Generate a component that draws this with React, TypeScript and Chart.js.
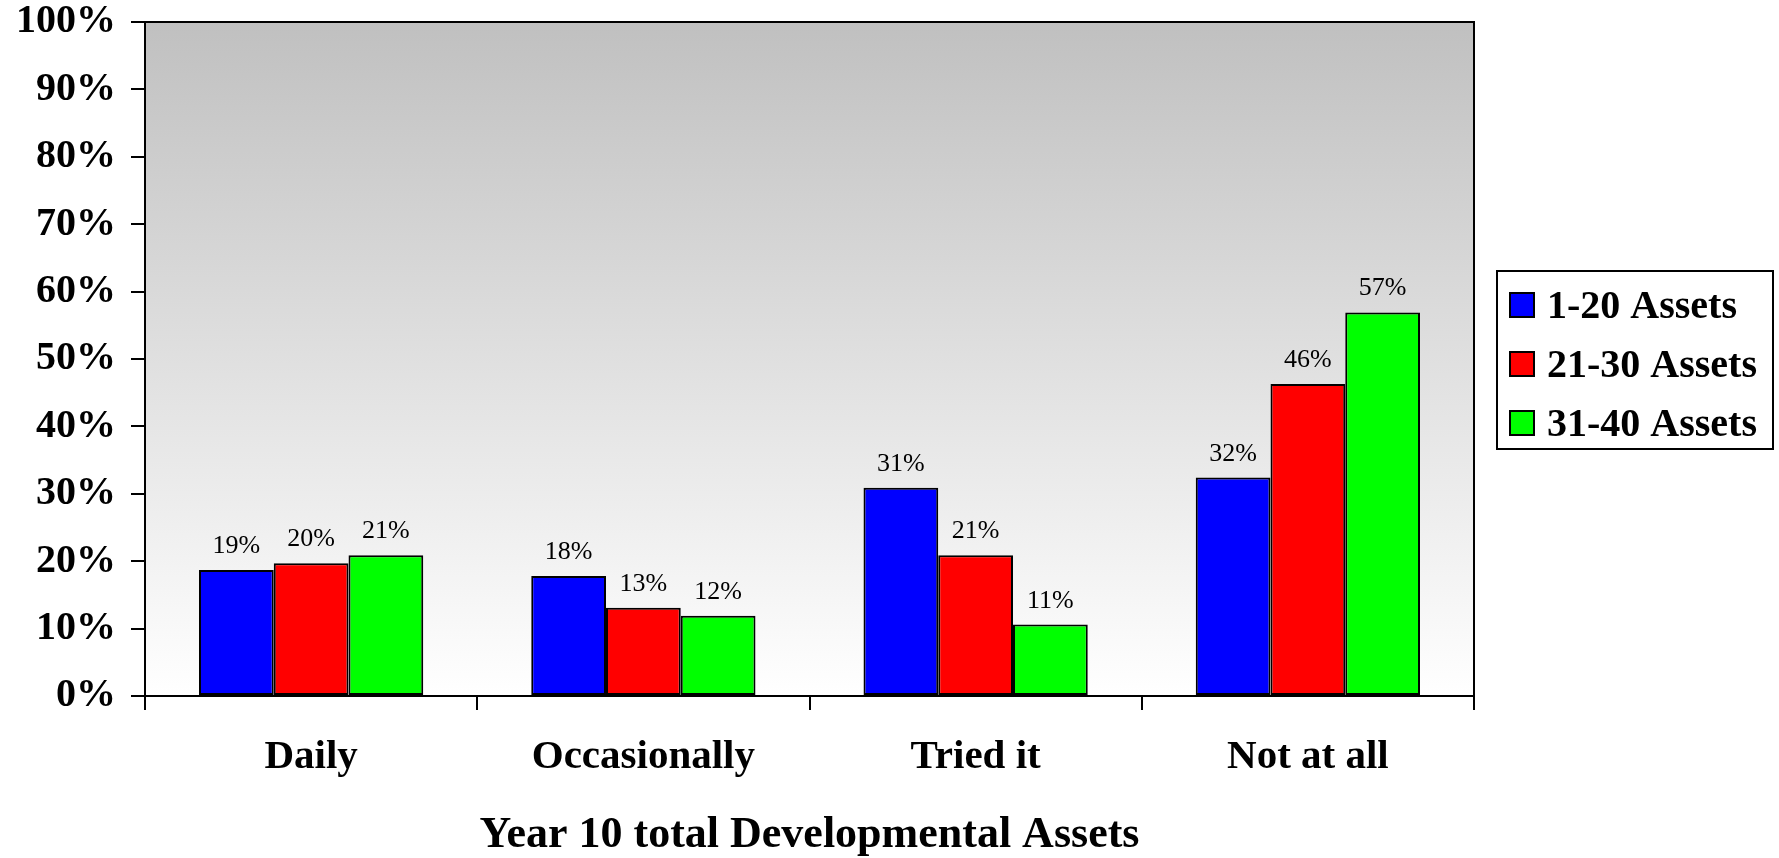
import React, { useEffect, useRef } from "react";
import { Chart, registerables } from "chart.js";

Chart.register(...registerables);

const categories = ["Daily", "Occasionally", "Tried it", "Not at all"];
const seriesNames = ["1-20 Assets", "21-30 Assets", "31-40 Assets"];
const assets1to20 = [18.7, 17.8, 30.9, 32.4];
const assets21to30 = [19.7, 13.1, 20.9, 46.3];
const assets31to40 = [20.9, 11.9, 10.6, 56.9];
const seriesColors = ["#0000FF", "#FF0000", "#00FF00"];
const yMin = 0;
const yMax = 100;
const yStep = 10;
const xAxisTitle = "Year 10 total Developmental Assets";

const SERIF = "'Liberation Serif', 'Times New Roman', serif";

const decorPlugin = {
  id: "decor",
  beforeDraw(chart: any) {
    const { ctx, chartArea: a } = chart;
    const g = ctx.createLinearGradient(0, a.top, 0, a.bottom);
    g.addColorStop(0, "#c0c0c0");
    g.addColorStop(1, "#ffffff");
    ctx.save();
    ctx.fillStyle = g;
    ctx.fillRect(a.left, a.top, a.right - a.left, a.bottom - a.top);
    ctx.restore();
  },
  afterDatasetsDraw(chart: any) {
    const { ctx } = chart;
    ctx.save();
    ctx.fillStyle = "#000";
    ctx.font = `26px ${SERIF}`;
    ctx.textAlign = "center";
    ctx.textBaseline = "alphabetic";
    chart.data.datasets.forEach((ds: any, di: number) => {
      const meta = chart.getDatasetMeta(di);
      meta.data.forEach((bar: any, i: number) => {
        const v = ds.data[i];
        ctx.fillText(Math.round(v) + "%", bar.x, bar.y - 17);
      });
    });
    ctx.restore();
  },
  afterDraw(chart: any) {
    const { ctx, chartArea: a } = chart;
    ctx.save();
    ctx.strokeStyle = "#000";
    ctx.lineWidth = 2;
    ctx.beginPath();
    ctx.moveTo(a.left, a.top);
    ctx.lineTo(a.right, a.top);
    ctx.lineTo(a.right, a.bottom);
    ctx.stroke();

    // legend
    const bx = 1497, by = 271, bw = 276, bh = 178;
    ctx.fillStyle = "#fff";
    ctx.fillRect(bx, by, bw, bh);
    ctx.strokeRect(bx, by, bw, bh);
    ctx.font = `bold 40px ${SERIF}`;
    ctx.textAlign = "left";
    ctx.textBaseline = "alphabetic";
    chart.data.datasets.forEach((ds: any, i: number) => {
      const baseY = 318 + i * 59;
      ctx.fillStyle = ds.backgroundColor;
      ctx.fillRect(1510, baseY - 25, 24, 24);
      ctx.strokeRect(1510, baseY - 25, 24, 24);
      ctx.fillStyle = "#000";
      ctx.fillText(ds.label, 1547, baseY);
    });
    ctx.restore();
  },
};

export default function App() {
  const ref = useRef<HTMLCanvasElement>(null);

  useEffect(() => {
    document.body.style.margin = "0";
    const seriesData = [assets1to20, assets21to30, assets31to40];
    const chart = new Chart(ref.current!, {
      type: "bar",
      data: {
        labels: categories,
        datasets: seriesNames.map((name, i) => ({
          label: name,
          data: seriesData[i],
          backgroundColor: seriesColors[i],
          borderColor: "#000",
          borderWidth: 2,
          borderSkipped: false,
          categoryPercentage: 0.675,
          barPercentage: 1,
        })),
      },
      options: {
        animation: false,
        responsive: true,
        maintainAspectRatio: false,
        layout: { padding: { top: 0, right: 305, bottom: 0, left: 0 } },
        plugins: {
          legend: { display: false },
          tooltip: { enabled: false },
        },
        scales: {
          x: {
            grid: {
              display: true,
              offset: true,
              drawOnChartArea: false,
              drawTicks: true,
              tickLength: 14,
              color: "#000",
              lineWidth: 2,
            },
            border: { display: true, color: "#000", width: 2 },
            ticks: {
              color: "#000",
              padding: 23,
              font: { family: SERIF, size: 41, weight: "bold" },
            },
            title: {
              display: true,
              text: xAxisTitle,
              color: "#000",
              font: { family: SERIF, size: 44, weight: "bold", lineHeight: 1 },
              padding: { top: 0, bottom: 0 },
            },
            afterFit(scale: any) {
              scale.height = 162;
            },
          },
          y: {
            min: yMin,
            max: yMax,
            grid: {
              display: true,
              drawOnChartArea: false,
              drawTicks: true,
              tickLength: 14,
              color: "#000",
              lineWidth: 2,
            },
            border: { display: true, color: "#000", width: 2 },
            ticks: {
              stepSize: yStep,
              autoSkip: false,
              color: "#000",
              padding: 15,
              font: { family: SERIF, size: 40, weight: "bold", lineHeight: 0.35 },
              callback: (v: any) => v + "%",
            },
            afterFit(scale: any) {
              scale.width = 145;
            },
          },
        },
      },
      plugins: [decorPlugin],
    });
    return () => chart.destroy();
  }, []);

  return (
    <div style={{ position: "fixed", left: 0, top: 0, width: 1779, height: 858, background: "#fff" }}>
      <canvas ref={ref} />
    </div>
  );
}
